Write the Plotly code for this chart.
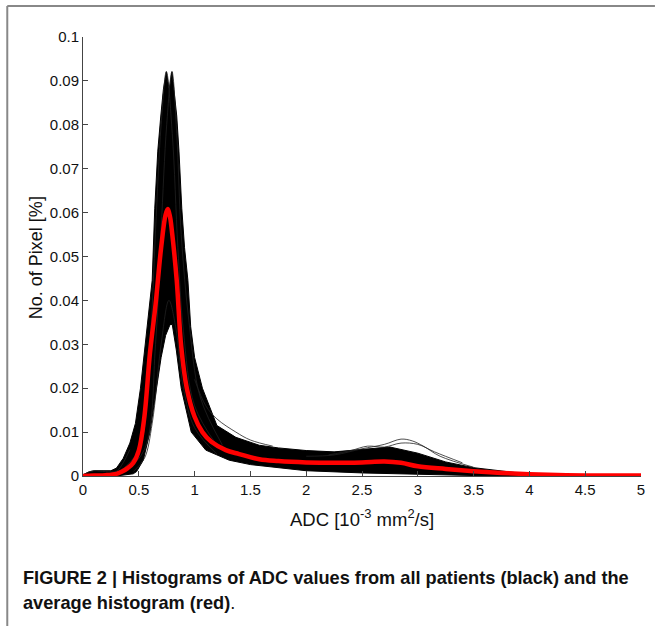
import plotly.graph_objects as go

# ---------------- data ----------------
# average histogram (red)
mean_x = [0.0, 0.1, 0.2, 0.3, 0.35, 0.4, 0.45, 0.5, 0.55, 0.6, 0.65, 0.7, 0.74, 0.76,
          0.78, 0.8, 0.84, 0.88, 0.93, 1.0, 1.07, 1.15, 1.28, 1.4, 1.58, 1.75, 2.0,
          2.25, 2.5, 2.7, 2.85, 3.0, 3.25, 3.5, 3.75, 4.0, 4.25, 4.5, 5.0]
mean_y = [0.0, 0.0001, 0.0002, 0.0005, 0.001, 0.0018, 0.003, 0.0058, 0.0135, 0.028,
          0.039, 0.052, 0.0595, 0.0608, 0.059, 0.055, 0.0445, 0.0295, 0.020, 0.0135,
          0.010, 0.0078, 0.0059, 0.005, 0.0038, 0.0034, 0.0031, 0.003, 0.0031, 0.0033,
          0.003, 0.0022, 0.0016, 0.0011, 0.0007, 0.0004, 0.0002, 0.0001, 0.0001]

# upper envelope of all patient histograms (black)
up_x = [0.0, 0.05, 0.1, 0.2, 0.25, 0.3, 0.36, 0.42, 0.47, 0.515, 0.553, 0.59, 0.62,
        0.643, 0.67, 0.697, 0.72, 0.747, 0.772, 0.797, 0.82, 0.84, 0.86, 0.885, 0.91,
        0.94, 0.965, 1.0, 1.07, 1.2, 1.37, 1.58, 1.75, 2.0, 2.25, 2.5, 2.75, 3.0, 3.25,
        3.5, 3.75, 4.0, 4.25, 4.5, 5.0]
up_y = [0.0003, 0.0009, 0.0012, 0.0011, 0.0012, 0.0018, 0.004, 0.0075, 0.012, 0.020,
        0.0287, 0.038, 0.0446, 0.061, 0.074, 0.082, 0.088, 0.0921, 0.088, 0.0921, 0.087,
        0.082, 0.074, 0.061, 0.052, 0.0446, 0.034, 0.027, 0.020, 0.0115, 0.0088, 0.007,
        0.0064, 0.0058, 0.0055, 0.006, 0.0066, 0.0052, 0.0032, 0.0019, 0.0012, 0.0004,
        0.0001, 0.0, 0.0]

# lower envelope of all patient histograms (black)
lo_x = [0.0, 0.3, 0.45, 0.48, 0.54, 0.6, 0.66, 0.7, 0.74, 0.78, 0.8, 0.836, 0.88,
        0.97, 1.1, 1.31, 1.5, 2.0, 2.5, 3.0, 3.5, 4.0, 5.0]
lo_y = [0.0, 0.0, 0.0005, 0.001, 0.0036, 0.010, 0.020, 0.027, 0.032, 0.0345, 0.0345,
        0.0287, 0.020, 0.010, 0.0059, 0.0036, 0.0026, 0.0012, 0.0007, 0.0004, 0.0001,
        0.0, 0.0]

# a few individual patient curves that stand out of the band
pa_x = [0.3, 0.5, 0.6, 0.65, 0.7, 0.747, 0.8, 0.85, 0.9, 1.0, 1.2]
pa_y = [0.0005, 0.006, 0.030, 0.056, 0.080, 0.0921, 0.078, 0.052, 0.033, 0.016, 0.007]
pb_x = [0.35, 0.55, 0.65, 0.7, 0.75, 0.797, 0.84, 0.88, 0.95, 1.05, 1.25]
pb_y = [0.0005, 0.006, 0.030, 0.056, 0.080, 0.0921, 0.078, 0.055, 0.035, 0.018, 0.007]
pd_x = [0.45, 0.55, 0.62, 0.7, 0.77, 0.83, 0.9, 1.0, 1.2]
pd_y = [0.001, 0.004, 0.012, 0.030, 0.040, 0.034, 0.020, 0.011, 0.005]
pe_x = [2.0, 2.25, 2.5, 2.7, 2.85, 2.95, 3.05, 3.2, 3.5]
pe_y = [0.0045, 0.0048, 0.0062, 0.0072, 0.0084, 0.0080, 0.0068, 0.0045, 0.002]
pf_x = [2.2, 2.4, 2.55, 2.7, 2.85, 3.0, 3.15, 3.4]
pf_y = [0.0048, 0.0058, 0.0068, 0.0066, 0.0075, 0.0072, 0.0055, 0.003]
pg_x = [0.0, 0.05, 0.1, 0.2, 0.3, 0.36, 0.42]
pg_y = [0.0002, 0.0009, 0.0012, 0.001, 0.0011, 0.003, 0.006]
ph_x = [1.0, 1.1, 1.2, 1.37, 1.5, 1.7]
ph_y = [0.022, 0.016, 0.013, 0.010, 0.0082, 0.0068]

x_ticks = [0, 0.5, 1, 1.5, 2, 2.5, 3, 3.5, 4, 4.5, 5]
x_tick_text = ["0", "0.5", "1", "1.5", "2", "2.5", "3", "3.5", "4", "4.5", "5"]
y_ticks = [0, 0.01, 0.02, 0.03, 0.04, 0.05, 0.06, 0.07, 0.08, 0.09, 0.1]
y_tick_text = ["0", "0.01", "0.02", "0.03", "0.04", "0.05", "0.06", "0.07", "0.08",
               "0.09", "0.1"]

# ---------------- figure ----------------
W, H = 657, 626
L, R, T, B = 83, 14, 37, 150
pw, ph = W - L - R, H - T - B


def px(xp):
    return (xp - L) / pw


def py(yp):
    return (H - B - yp) / ph


fig = go.Figure()

# black band (filled region between envelopes)
fig.add_trace(go.Scatter(
    x=up_x + lo_x[::-1], y=up_y + lo_y[::-1], mode="lines", fill="toself",
    fillcolor="black", line=dict(color="black", width=1), hoverinfo="skip",
    showlegend=False))

for cx, cy in [(pa_x, pa_y), (pb_x, pb_y), (pd_x, pd_y), (pe_x, pe_y),
               (pf_x, pf_y), (pg_x, pg_y), (ph_x, ph_y)]:
    fig.add_trace(go.Scatter(x=cx, y=cy, mode="lines", line=dict(color="#222", width=0.8),
                             line_shape="spline", showlegend=False, hoverinfo="skip"))

fig.add_trace(go.Scatter(x=mean_x, y=mean_y, mode="lines", line=dict(color="#ff0000", width=4.5),
                         line_shape="spline", showlegend=False))

font_family = "Liberation Sans, Arial, Helvetica, sans-serif"
cap_font = dict(size=18.2, family="Liberation Sans, Arial, sans-serif", color="#111")
fig.update_layout(
    width=W, height=H, margin=dict(l=L, r=R, t=T, b=B),
    paper_bgcolor="white", plot_bgcolor="white",
    font=dict(family=font_family, size=15, color="#111"),
    xaxis=dict(range=[0, 5], tickvals=x_ticks, ticktext=x_tick_text, ticks="inside",
               ticklen=5, tickcolor="#444", showline=True, linecolor="#444", linewidth=1,
               showgrid=False, zeroline=False, tickfont=dict(size=15)),
    yaxis=dict(range=[0, 0.1], tickvals=y_ticks, ticktext=y_tick_text, ticks="inside",
               ticklen=5, tickcolor="#444", showline=True, linecolor="#444", linewidth=1,
               showgrid=False, zeroline=False, tickfont=dict(size=15)),
    shapes=[
        dict(type="line", xref="paper", yref="paper", x0=px(7), x1=px(W), y0=py(6), y1=py(6),
             line=dict(color="#888", width=2)),
        dict(type="line", xref="paper", yref="paper", x0=px(7), x1=px(7), y0=py(6), y1=py(H),
             line=dict(color="#888", width=2)),
    ],
    annotations=[
        dict(text="ADC [10<sup>-3</sup> mm<sup>2</sup>/s]", xref="paper", yref="paper",
             x=px(363), y=py(518), xanchor="center", yanchor="middle", showarrow=False,
             font=dict(size=18.5)),
        dict(text="No. of Pixel [%]", xref="paper", yref="paper", x=px(36), y=py(258),
             xanchor="center", yanchor="middle", textangle=-90, showarrow=False,
             font=dict(size=18)),
        dict(text="<b>FIGURE 2 | Histograms of ADC values from all patients (black) and the</b>",
             xref="paper", yref="paper", x=px(21), y=py(578), xanchor="left", yanchor="middle",
             showarrow=False, font=cap_font),
        dict(text="<b>average histogram (red)</b>.",
             xref="paper", yref="paper", x=px(21), y=py(603), xanchor="left", yanchor="middle",
             showarrow=False, font=cap_font),
    ],
)

fig.write_html("out.html", config={"displayModeBar": False},
               post_script="document.body.style.margin='0';document.body.style.padding='0';")
